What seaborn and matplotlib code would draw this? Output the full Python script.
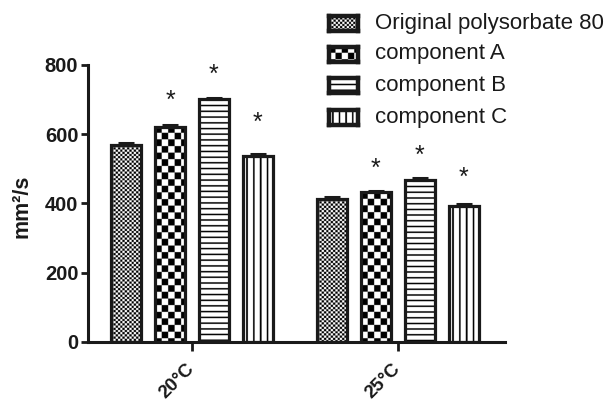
import numpy as np
import pandas as pd
import matplotlib
matplotlib.use("Agg")
import matplotlib.pyplot as plt
import seaborn as sns

# ---- data -------------------------------------------------------------
temperatures = ["20°C", "25°C"]
groups = ["Original polysorbate 80", "component A", "component B", "component C"]
viscosity_20 = [569, 622, 701, 537]
viscosity_25 = [413, 432, 468, 393]
sem_20 = [5, 5, 5, 5]
sem_25 = [4, 4, 4, 4]
# height at which the significance asterisk is placed (None = not significant)
star_20 = [None, 708, 785, 647]
star_25 = [None, 514, 549, 487]
y_ticks = [0, 200, 400, 600, 800]

rows = []
for g, a, b in zip(groups, viscosity_20, viscosity_25):
    rows.append({"temp": temperatures[0], "group": g, "value": a})
    rows.append({"temp": temperatures[1], "group": g, "value": b})
df = pd.DataFrame(rows)

# ---- style ------------------------------------------------------------
sns.set_theme(style="ticks")
plt.rcParams["font.family"] = ["Liberation Sans", "DejaVu Sans"]
INK = "#1a1a1a"

W, H, DPI = 607, 401, 100
fig = plt.figure(figsize=(W / DPI, H / DPI), dpi=DPI)
ax = fig.add_axes([88 / W, (H - 341.7) / H, (505 - 88) / W, (341.7 - 65) / H])

sns.barplot(data=df, x="temp", y="value", hue="group", order=temperatures,
            hue_order=groups, palette=["white"] * 4, width=0.854, gap=0.31,
            errorbar=None, legend=False, ax=ax)

ax.set_xlim(-0.505, 1.52)
ax.set_ylim(0, 800)
ax.set_yticks(y_ticks)
ax.set_xticks([0, 1])

SS = 4  # supersampling factor for the textures


def pattern(kind, w, h):
    """Greyscale texture (0 = black, 1 = white) covering w x h pixels."""
    yy, xx = np.mgrid[0:h * SS, 0:w * SS] / SS
    if kind == 0:      # fine checker
        return ((np.floor(xx / 2.2) + np.floor(yy / 2.2)) % 2).astype(float)
    if kind == 1:      # coarse checker
        return ((np.floor(xx / 6.3) + np.floor(yy / 6.6)) % 2).astype(float)
    if kind == 2:      # horizontal stripes
        return np.where((yy % 5.7) < 1.5, 0.0, 1.0)
    # vertical stripes
    return np.where(((xx - 3) % 6.6) < 1.6, 0.0, 1.0)


fig.canvas.draw()
to_px = ax.transData.transform
patches = list(ax.patches)
values = [viscosity_20, viscosity_25]
sems = [sem_20, sem_25]
stars = [star_20, star_25]

for i, p in enumerate(patches):
    hue_i, x_i = divmod(i, 2)
    x0, w, hgt = p.get_x(), p.get_width(), p.get_height()
    (px0, py0), (px1, py1) = to_px([(x0, 0), (x0 + w, hgt)])
    img = pattern(hue_i, max(int(round(px1 - px0)), 1), max(int(round(py1 - py0)), 1))
    im = ax.imshow(img, cmap="gray", vmin=0, vmax=1, extent=(x0, x0 + w, 0, hgt),
                   origin="upper", interpolation="antialiased", aspect="auto",
                   zorder=1.5)
    im.set_clip_path(p)
    p.set_facecolor("none")
    p.set_edgecolor(INK)
    p.set_linewidth(2.3)
    p.set_zorder(2)

    xc = x0 + w / 2
    top = values[x_i][hue_i]
    err = sems[x_i][hue_i]
    ax.errorbar(xc, top, yerr=[[0], [err]], fmt="none", ecolor=INK,
                elinewidth=2.0, capsize=6, capthick=2.2, zorder=3)
    sy = stars[x_i][hue_i]
    if sy is not None:
        ax.text(xc, sy - 13, "*", ha="center", va="center",
                fontsize=18, color=INK, clip_on=False)

ax.set_xlim(-0.505, 1.52)
ax.set_ylim(0, 800)

# ---- axes decoration --------------------------------------------------
sns.despine(ax=ax)
for s in ("left", "bottom"):
    ax.spines[s].set_linewidth(2.2)
    ax.spines[s].set_color(INK)
ax.tick_params(axis="y", length=5, width=2.0, pad=2, color=INK, labelcolor=INK)
ax.tick_params(axis="x", length=6.5, width=2.0, pad=11, color=INK, labelcolor=INK)
for lab in ax.get_yticklabels():
    lab.set_fontsize(14.5)
    lab.set_fontweight("bold")
ax.set_xticklabels(temperatures, rotation=45, ha="right", va="center",
                   rotation_mode="anchor", fontsize=13.5, fontweight="bold")
ax.set_xlabel("")
ax.set_ylabel("mm²/s", fontsize=15.5, fontweight="bold", color=INK)
ax.yaxis.set_label_coords(-0.134, 0.49)

# ---- legend drawn as swatches with the same textures ------------------
row_y = [23, 54, 85.5, 117.5]
for k, (g, yc) in enumerate(zip(groups, row_y)):
    sw_w, sw_h = 29, 15
    lx = 329
    sax = fig.add_axes([lx / W, (H - yc - sw_h / 2) / H, sw_w / W, sw_h / H])
    sax.imshow(pattern(k, sw_w, sw_h), cmap="gray", vmin=0, vmax=1,
               interpolation="antialiased", aspect="auto")
    sax.set_xticks([])
    sax.set_yticks([])
    for s in sax.spines.values():
        s.set_linewidth(3.2)
        s.set_color(INK)
    fig.text(375 / W, (H - yc) / H, g, ha="left", va="center",
             fontsize=16, color=INK)

fig.savefig("out.png", dpi=DPI)
